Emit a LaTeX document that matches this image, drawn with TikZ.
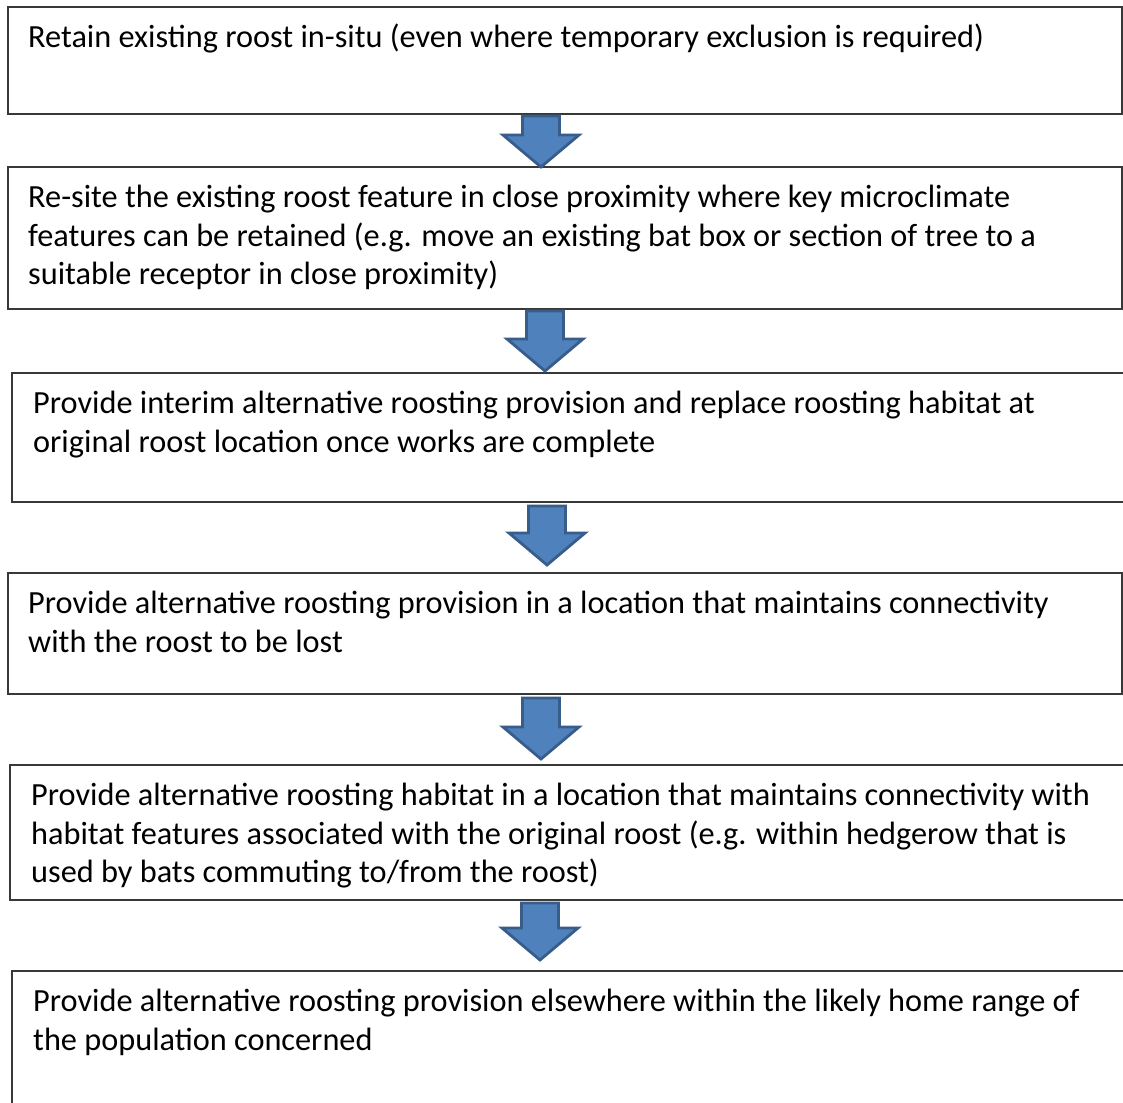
\documentclass[tikz,border=0pt]{standalone}
\usepackage{fontspec}
\setmainfont{Carlito}
\definecolor{arrowfill}{HTML}{4F81BD}
\definecolor{arrowline}{HTML}{385D8A}
\tikzset{
  boxline/.style={draw=black!78, line width=1.3pt},
  boxtext/.style={anchor=base west, inner sep=0pt, font=\fontsize{32.3}{38.6}\selectfont},
  blockarrow/.style={fill=arrowfill, draw=arrowline, line width=2.8pt, line join=miter},
  pics/downarrow/.style={code={
    \path[blockarrow] (-18.5,0) -- (18.5,0) -- (18.5,#1-32) -- (38,#1-32) -- (0,#1) -- (-38,#1-32) -- (-18.5,#1-32) -- cycle;
  }}
}
\newcommand{\boxlines}[1]{\parbox[t]{1200pt}{\raggedright #1}}
\begin{document}
\begin{tikzpicture}[x=1pt,y=-1pt]
\useasboundingbox[fill=white] (0,0) rectangle (1123,1102);
% boxes
\draw[boxline] (8,7) rectangle (1122,114) node[pos=0,inner sep=0] (b1) {};
\draw[boxline] (8,167) rectangle (1122,309) node[pos=0,inner sep=0] (b2) {};
\draw[boxline] (12,373) rectangle (1135,502) node[pos=0,inner sep=0] (b3) {};
\draw[boxline] (8,573) rectangle (1122,694) node[pos=0,inner sep=0] (b4) {};
\draw[boxline] (10,765) rectangle (1135,900) node[pos=0,inner sep=0] (b5) {};
\draw[boxline] (12,971) rectangle (1135,1115) node[pos=0,inner sep=0] (b6) {};
% texts
\node[boxtext] (t1) at (28,47.5) {\boxlines{Retain existing roost in-situ (even where temporary exclusion is required)}};
\node[boxtext] (t2) at (28,207.5) {\boxlines{Re-site the existing roost feature in close proximity where key microclimate\\features can be retained (e.g. move an existing bat box or section of tree to a\\suitable receptor in close proximity)}};
\node[boxtext] (t3) at (33,413.5) {\boxlines{Provide interim alternative roosting provision and replace roosting habitat at\\original roost location once works are complete}};
\node[boxtext] (t4) at (28,613.5) {\boxlines{Provide alternative roosting provision in a location that maintains connectivity\\with the roost to be lost}};
\node[boxtext] (t5) at (31,805.5) {\boxlines{Provide alternative roosting habitat in a location that maintains connectivity with\\habitat features associated with the original roost (e.g. within hedgerow that is\\used by bats commuting to/from the roost)}};
\node[boxtext] (t6) at (33,1011.5) {\boxlines{Provide alternative roosting provision elsewhere within the likely home range of\\the population concerned}};
% arrows
\pic at (541,116) {downarrow=51};
\pic at (545,311) {downarrow=60};
\pic at (547,506) {downarrow=59};
\pic at (541,698) {downarrow=61};
\pic at (540,903) {downarrow=57};
\end{tikzpicture}
\end{document}
